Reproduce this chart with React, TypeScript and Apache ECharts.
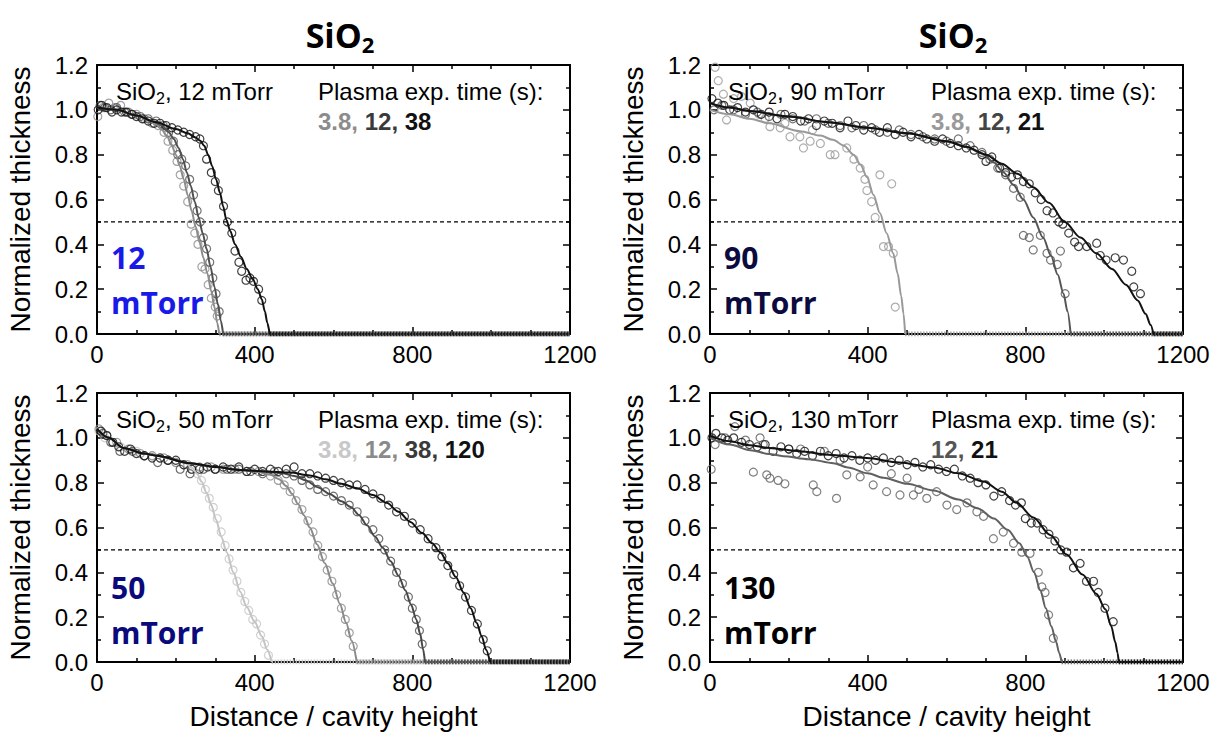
import React, { useEffect, useRef } from "react";
import * as echarts from "echarts";

// ---------- Panel 1: SiO2, 12 mTorr (exposure 3.8, 12, 38 s) ----------
const p1Fit3_8 = [[0, 1.01], [50, 1.0], [100, 0.975], [130, 0.955], [150, 0.935], [165, 0.91], [178, 0.88], [190, 0.84], [200, 0.8], [210, 0.75], [220, 0.69], [230, 0.62], [240, 0.55], [250, 0.48], [260, 0.41], [270, 0.34], [280, 0.27], [290, 0.19], [298, 0.12], [305, 0.05], [310, 0]];
const p1Fit12 = [[0, 1.01], [50, 1.0], [100, 0.975], [140, 0.95], [165, 0.93], [182, 0.9], [195, 0.87], [207, 0.83], [218, 0.78], [228, 0.72], [238, 0.66], [248, 0.59], [258, 0.52], [268, 0.45], [278, 0.38], [288, 0.3], [298, 0.21], [307, 0.13], [314, 0.06], [320, 0]];
const p1Fit38 = [[0, 1.01], [50, 1.0], [100, 0.975], [150, 0.945], [200, 0.915], [230, 0.895], [250, 0.877], [262, 0.862], [272, 0.84], [282, 0.8], [292, 0.75], [302, 0.69], [312, 0.63], [320, 0.57], [328, 0.51], [338, 0.46], [350, 0.4], [365, 0.345], [380, 0.29], [395, 0.245], [408, 0.2], [418, 0.155], [426, 0.1], [432, 0.05], [438, 0]];
const p1Pts3_8 = [[2, 0.97], [15, 1.01], [30, 1.03], [45, 1.01], [60, 1.02], [80, 0.99], [100, 0.98], [120, 0.96], [140, 0.94], [155, 0.93], [170, 0.9], [180, 0.86], [192, 0.82], [203, 0.77], [211, 0.71], [220, 0.66], [230, 0.59], [239, 0.49], [248, 0.45], [256, 0.4], [266, 0.3], [274, 0.29], [282, 0.22], [290, 0.16], [300, 0.12], [305, 0.08]];
const p1Pts12 = [[8, 1.02], [20, 1.01], [35, 1.0], [50, 1.01], [70, 0.99], [90, 0.98], [110, 0.97], [130, 0.96], [150, 0.95], [168, 0.93], [182, 0.9], [194, 0.86], [205, 0.8], [215, 0.78], [225, 0.75], [235, 0.69], [245, 0.62], [254, 0.55], [262, 0.5], [270, 0.43], [278, 0.38], [286, 0.32], [294, 0.25], [302, 0.18], [310, 0.1]];
const p1Pts38 = [[3, 1.0], [12, 1.02], [25, 1.01], [38, 0.99], [50, 1.0], [62, 0.99], [75, 0.99], [88, 0.98], [100, 0.97], [115, 0.96], [130, 0.95], [145, 0.94], [160, 0.94], [175, 0.93], [190, 0.92], [205, 0.91], [220, 0.9], [235, 0.89], [250, 0.88], [261, 0.87], [270, 0.84], [278, 0.78], [290, 0.72], [300, 0.68], [308, 0.64], [321, 0.57], [331, 0.5], [342, 0.45], [350, 0.37], [360, 0.32], [367, 0.28], [378, 0.24], [388, 0.25], [397, 0.235], [410, 0.2], [418, 0.15]];

// ---------- Panel 2: SiO2, 90 mTorr (exposure 3.8, 12, 21 s) ----------
const p2Fit3_8 = [[0, 1.0], [50, 0.98], [100, 0.96], [150, 0.94], [228, 0.905], [280, 0.885], [312, 0.866], [340, 0.84], [364, 0.8], [382, 0.755], [398, 0.7], [415, 0.62], [431, 0.54], [448, 0.45], [465, 0.36], [476, 0.27], [485, 0.17], [491, 0.09], [495, 0]];
const p2Fit12 = [[0, 1.03], [50, 1.01], [100, 0.995], [200, 0.97], [300, 0.945], [400, 0.92], [500, 0.895], [600, 0.86], [650, 0.835], [690, 0.805], [720, 0.765], [745, 0.72], [770, 0.665], [795, 0.6], [820, 0.52], [845, 0.43], [865, 0.35], [882, 0.265], [897, 0.18], [907, 0.1], [915, 0]];
const p2Fit21 = [[0, 1.03], [50, 1.01], [100, 0.995], [200, 0.97], [300, 0.945], [400, 0.92], [500, 0.895], [600, 0.86], [650, 0.835], [700, 0.8], [740, 0.76], [780, 0.715], [820, 0.655], [860, 0.585], [900, 0.5], [940, 0.43], [980, 0.36], [1020, 0.29], [1055, 0.22], [1085, 0.15], [1105, 0.09], [1118, 0.04], [1125, 0]];
const p2Pts3_8 = [[13, 1.19], [21, 1.13], [34, 1.07], [42, 0.955], [60, 1.05], [80, 1.06], [102, 1.03], [125, 0.98], [140, 0.96], [152, 0.925], [178, 0.92], [190, 0.94], [203, 0.88], [228, 0.88], [237, 0.83], [254, 0.86], [260, 0.91], [280, 0.85], [305, 0.8], [317, 0.8], [347, 0.83], [365, 0.78], [381, 0.74], [393, 0.69], [398, 0.64], [410, 0.59], [419, 0.52], [431, 0.71], [440, 0.39], [453, 0.39], [461, 0.67], [465, 0.36], [470, 0.12]];
const p2Pts12 = [[10, 1.0], [30, 1.02], [60, 1.0], [90, 0.98], [120, 0.99], [150, 0.97], [180, 0.98], [210, 0.96], [240, 0.95], [270, 0.96], [300, 0.94], [330, 0.93], [360, 0.92], [390, 0.93], [420, 0.91], [450, 0.9], [480, 0.91], [510, 0.89], [540, 0.88], [570, 0.87], [600, 0.86], [630, 0.87], [660, 0.84], [690, 0.81], [710, 0.78], [730, 0.74], [750, 0.71], [770, 0.65], [787, 0.61], [795, 0.44], [810, 0.43], [820, 0.375], [838, 0.44], [855, 0.36], [864, 0.33], [881, 0.31], [889, 0.37], [901, 0.18]];
const p2Pts21 = [[5, 1.05], [20, 1.03], [35, 1.02], [50, 1.0], [70, 1.01], [90, 0.99], [110, 1.0], [130, 0.98], [150, 0.99], [170, 0.96], [190, 0.98], [210, 0.97], [230, 0.95], [250, 0.96], [270, 0.93], [290, 0.95], [310, 0.94], [330, 0.92], [350, 0.95], [370, 0.93], [390, 0.91], [410, 0.92], [430, 0.9], [450, 0.92], [470, 0.89], [490, 0.9], [510, 0.88], [530, 0.89], [550, 0.87], [570, 0.86], [590, 0.87], [610, 0.85], [630, 0.84], [650, 0.83], [670, 0.82], [690, 0.8], [700, 0.77], [715, 0.79], [735, 0.74], [750, 0.72], [765, 0.7], [780, 0.71], [795, 0.68], [810, 0.67], [825, 0.63], [840, 0.6], [855, 0.55], [870, 0.54], [885, 0.5], [895, 0.49], [910, 0.45], [925, 0.41], [935, 0.39], [956, 0.39], [981, 0.405], [990, 0.35], [1005, 0.33], [1028, 0.34], [1049, 0.33], [1070, 0.28], [1075, 0.21], [1092, 0.18]];

// ---------- Panel 3: SiO2, 50 mTorr (exposure 3.8, 12, 38, 120 s) ----------
const p3Fit3_8 = [[0, 1.04], [30, 1.0], [67, 0.955], [120, 0.93], [151, 0.92], [200, 0.9], [225, 0.885], [242, 0.865], [254, 0.84], [265, 0.805], [278, 0.755], [290, 0.7], [302, 0.635], [315, 0.56], [329, 0.49], [346, 0.4], [363, 0.315], [380, 0.245], [400, 0.18], [418, 0.115], [432, 0.055], [443, 0]];
const p3Fit12 = [[0, 1.04], [30, 1.0], [67, 0.955], [120, 0.93], [151, 0.92], [236, 0.887], [300, 0.87], [363, 0.857], [410, 0.848], [440, 0.835], [462, 0.815], [480, 0.785], [495, 0.75], [510, 0.705], [525, 0.655], [540, 0.6], [558, 0.525], [578, 0.44], [598, 0.35], [616, 0.26], [632, 0.175], [646, 0.095], [659, 0]];
const p3Fit38 = [[0, 1.04], [30, 1.0], [67, 0.955], [120, 0.93], [151, 0.92], [236, 0.887], [300, 0.87], [363, 0.857], [430, 0.85], [470, 0.842], [500, 0.83], [530, 0.81], [560, 0.78], [590, 0.75], [620, 0.717], [645, 0.69], [665, 0.655], [685, 0.61], [705, 0.56], [725, 0.51], [745, 0.45], [765, 0.385], [782, 0.32], [797, 0.255], [810, 0.19], [820, 0.125], [827, 0.06], [832, 0]];
const p3Fit120 = [[0, 1.04], [30, 1.0], [67, 0.955], [120, 0.93], [151, 0.92], [236, 0.887], [300, 0.87], [363, 0.857], [430, 0.85], [490, 0.845], [540, 0.832], [580, 0.815], [620, 0.795], [660, 0.775], [700, 0.745], [735, 0.71], [765, 0.67], [795, 0.625], [825, 0.575], [850, 0.53], [871, 0.49], [890, 0.44], [910, 0.38], [930, 0.31], [948, 0.24], [963, 0.175], [976, 0.115], [987, 0.055], [997, 0]];
const p3Pts3_8 = [[5, 1.03], [20, 1.0], [40, 0.98], [60, 0.96], [80, 0.95], [100, 0.94], [120, 0.92], [140, 0.92], [160, 0.91], [180, 0.9], [200, 0.89], [220, 0.88], [240, 0.86], [255, 0.84], [265, 0.81], [275, 0.77], [285, 0.73], [295, 0.69], [305, 0.64], [315, 0.58], [325, 0.52], [335, 0.46], [345, 0.41], [355, 0.36], [365, 0.31], [375, 0.27], [385, 0.23], [395, 0.19], [405, 0.17], [415, 0.12], [425, 0.08], [435, 0.03]];
const p3Pts12 = [[5, 1.04], [25, 1.01], [50, 0.98], [80, 0.95], [110, 0.93], [140, 0.92], [170, 0.91], [200, 0.89], [230, 0.88], [260, 0.87], [290, 0.87], [320, 0.86], [350, 0.86], [380, 0.85], [410, 0.85], [440, 0.83], [460, 0.81], [475, 0.79], [490, 0.76], [505, 0.72], [520, 0.68], [535, 0.63], [548, 0.58], [560, 0.52], [572, 0.47], [584, 0.41], [596, 0.36], [608, 0.3], [620, 0.24], [630, 0.19], [640, 0.13], [650, 0.07]];
const p3Pts38 = [[15, 1.02], [35, 0.98], [58, 0.94], [90, 0.94], [120, 0.92], [154, 0.89], [180, 0.9], [211, 0.86], [236, 0.84], [270, 0.86], [300, 0.86], [330, 0.86], [360, 0.86], [390, 0.85], [420, 0.84], [450, 0.85], [480, 0.84], [500, 0.83], [520, 0.81], [540, 0.79], [560, 0.77], [580, 0.76], [600, 0.74], [620, 0.72], [640, 0.7], [660, 0.67], [680, 0.63], [700, 0.59], [715, 0.55], [730, 0.5], [745, 0.45], [760, 0.4], [775, 0.35], [790, 0.29], [800, 0.24], [810, 0.19], [818, 0.14], [825, 0.08]];
const p3Pts120 = [[10, 1.03], [25, 1.01], [40, 0.98], [55, 0.96], [70, 0.94], [85, 0.95], [100, 0.93], [120, 0.92], [140, 0.91], [160, 0.91], [180, 0.9], [200, 0.9], [220, 0.88], [240, 0.86], [260, 0.86], [280, 0.87], [300, 0.86], [320, 0.87], [340, 0.86], [360, 0.87], [380, 0.85], [400, 0.86], [420, 0.85], [440, 0.86], [460, 0.85], [480, 0.86], [500, 0.87], [520, 0.84], [540, 0.84], [560, 0.83], [580, 0.82], [600, 0.81], [620, 0.8], [640, 0.79], [660, 0.79], [680, 0.77], [700, 0.75], [720, 0.73], [740, 0.7], [760, 0.67], [780, 0.65], [800, 0.62], [820, 0.59], [840, 0.55], [860, 0.51], [875, 0.47], [890, 0.43], [905, 0.39], [920, 0.34], [935, 0.29], [950, 0.23], [965, 0.17], [980, 0.1], [990, 0.05]];

// ---------- Panel 4: SiO2, 130 mTorr (exposure 12, 21 s) ----------
const p4Fit12 = [[0, 1.0], [50, 0.97], [102, 0.945], [150, 0.928], [186, 0.918], [250, 0.905], [313, 0.887], [350, 0.868], [400, 0.842], [440, 0.822], [500, 0.795], [567, 0.765], [630, 0.725], [680, 0.685], [720, 0.64], [755, 0.59], [785, 0.53], [805, 0.47], [822, 0.4], [838, 0.32], [852, 0.24], [866, 0.16], [878, 0.09], [886, 0.04], [892, 0]];
const p4Fit21 = [[0, 1.01], [50, 0.985], [100, 0.967], [150, 0.955], [228, 0.94], [300, 0.925], [398, 0.91], [480, 0.89], [567, 0.868], [630, 0.842], [694, 0.805], [740, 0.76], [778, 0.71], [820, 0.645], [863, 0.567], [905, 0.48], [945, 0.39], [980, 0.305], [1003, 0.235], [1018, 0.16], [1028, 0.09], [1034, 0.04], [1037, 0]];
const p4Pts12 = [[3, 0.86], [13, 0.97], [38, 1.0], [63, 1.05], [90, 0.99], [110, 0.847], [127, 1.0], [135, 0.97], [144, 0.835], [152, 0.82], [173, 0.81], [190, 0.795], [200, 0.95], [230, 0.95], [262, 0.79], [271, 0.76], [290, 0.94], [321, 0.73], [330, 0.9], [347, 0.835], [381, 0.826], [400, 0.87], [414, 0.79], [448, 0.76], [460, 0.84], [482, 0.745], [500, 0.82], [516, 0.745], [530, 0.77], [550, 0.73], [575, 0.76], [601, 0.7], [626, 0.68], [652, 0.71], [677, 0.67], [694, 0.65], [719, 0.55], [744, 0.58], [770, 0.53], [791, 0.49], [812, 0.485], [833, 0.4], [842, 0.335], [850, 0.31], [859, 0.21], [871, 0.106]];
const p4Pts21 = [[5, 1.0], [15, 1.02], [30, 1.0], [45, 0.99], [60, 1.0], [80, 0.98], [100, 0.97], [120, 0.96], [140, 0.97], [160, 0.94], [180, 0.96], [200, 0.95], [220, 0.93], [240, 0.94], [260, 0.92], [280, 0.94], [300, 0.92], [320, 0.93], [340, 0.91], [360, 0.92], [380, 0.9], [400, 0.91], [420, 0.9], [440, 0.91], [460, 0.89], [480, 0.9], [500, 0.88], [520, 0.89], [540, 0.87], [560, 0.88], [580, 0.86], [600, 0.85], [620, 0.86], [640, 0.83], [660, 0.82], [680, 0.8], [700, 0.79], [720, 0.74], [740, 0.76], [760, 0.72], [775, 0.7], [790, 0.71], [800, 0.64], [815, 0.62], [830, 0.62], [845, 0.59], [860, 0.57], [875, 0.54], [890, 0.5], [905, 0.49], [922, 0.42], [939, 0.44], [955, 0.36], [973, 0.36], [985, 0.31], [1002, 0.24], [1023, 0.18]];

// ---------- Axes / annotation texts ----------
const xTickInterval = 400;
const yTickInterval = 0.2;
const xRange = [0, 1200];
const yRange = [0, 1.2];
const threshold = 0.5;
const pressures = ["12", "90", "50", "130"];
const expTimes = [["3.8", "12", "38"], ["3.8", "12", "21"], ["3.8", "12", "38", "120"], ["12", "21"]];

const FONT = '"Liberation Sans", Arial, sans-serif';
const BOLD = '"Open Sans", "Noto Sans", sans-serif';

const panels = [
  { left: 97, top: 65, label: "#1a1ae8", series: [
    { pts: p1Pts3_8, fit: p1Fit3_8, color: "#8c8c8c", text: "#8c8c8c" },
    { pts: p1Pts12, fit: p1Fit12, color: "#505050", text: "#3a3a3a" },
    { pts: p1Pts38, fit: p1Fit38, color: "#111111", text: "#111111" },
  ] },
  { left: 710, top: 65, label: "#0b0b40", series: [
    { pts: p2Pts3_8, fit: p2Fit3_8, color: "#999999", text: "#999999" },
    { pts: p2Pts12, fit: p2Fit12, color: "#555555", text: "#444444" },
    { pts: p2Pts21, fit: p2Fit21, color: "#111111", text: "#111111" },
  ] },
  { left: 97, top: 393, label: "#0a0a7c", series: [
    { pts: p3Pts3_8, fit: p3Fit3_8, color: "#c4c4c4", text: "#c8c8c8" },
    { pts: p3Pts12, fit: p3Fit12, color: "#8a8a8a", text: "#8a8a8a" },
    { pts: p3Pts38, fit: p3Fit38, color: "#484848", text: "#3a3a3a" },
    { pts: p3Pts120, fit: p3Fit120, color: "#111111", text: "#111111" },
  ] },
  { left: 710, top: 393, label: "#000000", series: [
    { pts: p4Pts12, fit: p4Fit12, color: "#606060", text: "#555555" },
    { pts: p4Pts21, fit: p4Fit21, color: "#111111", text: "#111111" },
  ] },
];

const GW = 473;
const GH = 269;

function buildOption() {
  const grid: any[] = [];
  const xAxis: any[] = [];
  const yAxis: any[] = [];
  const series: any[] = [];
  const graphic: any[] = [];

  const axisLine = { onZero: false, lineStyle: { color: "#000", width: 2 } };
  const tick = { inside: true, length: 7, lineStyle: { color: "#000", width: 1.5 } };
  const labelStyle = { fontSize: 24, fontFamily: FONT, color: "#000" };

  panels.forEach((p, i) => {
    grid.push({ left: p.left, top: p.top, width: GW, height: GH });
    const xBase = {
      gridIndex: i, type: "value", min: xRange[0], max: xRange[1], interval: xTickInterval,
      axisLine, axisTick: tick,
      minorTick: { show: true, splitNumber: 4, length: 4, lineStyle: { color: "#000", width: 1.5 } },
      splitLine: { show: false },
    };
    xAxis.push({
      ...xBase, position: "bottom",
      name: i >= 2 ? "Distance / cavity height" : "",
      nameLocation: "middle", nameGap: 40,
      nameTextStyle: { fontSize: 28, fontFamily: FONT, color: "#000" },
      axisLabel: { ...labelStyle, margin: 8, formatter: (v: number) => String(v) },
    });
    xAxis.push({ ...xBase, position: "top", axisLabel: { show: false } });
    const yBase = {
      gridIndex: i, type: "value", min: yRange[0], max: yRange[1], interval: yTickInterval,
      axisLine, axisTick: tick,
      minorTick: { show: true, splitNumber: 2, length: 4, lineStyle: { color: "#000", width: 1.5 } },
      splitLine: { show: false },
    };
    yAxis.push({
      ...yBase, position: "left",
      name: "Normalized thickness", nameLocation: "middle", nameGap: 63,
      nameTextStyle: { fontSize: 28, fontFamily: FONT, color: "#000" },
      axisLabel: { ...labelStyle, margin: 9, formatter: (v: number) => v.toFixed(1) },
    });
    yAxis.push({ ...yBase, position: "right", axisLabel: { show: false } });

    const xi = 2 * i;
    const yi = 2 * i;

    // dashed threshold line
    series.push({
      type: "line", xAxisIndex: xi, yAxisIndex: yi, silent: true, symbol: "none",
      data: [[xRange[0], threshold], [xRange[1], threshold]],
      lineStyle: { color: "#000", width: 1.3, type: [4, 3] }, z: 1,
    });

    p.series.forEach((s) => {
      const last = s.fit[s.fit.length - 1];
      // zero baseline after the profile vanishes
      series.push({
        type: "line", xAxisIndex: xi, yAxisIndex: yi, symbol: "none", silent: true,
        data: [[last[0], 0], [xRange[1], 0]],
        lineStyle: { color: s.color, width: 5, type: [1.5, 1.5], opacity: 0.9 }, z: 2,
      });
      series.push({
        type: "scatter", xAxisIndex: xi, yAxisIndex: yi, data: s.pts,
        symbol: "circle", symbolSize: 8,
        itemStyle: { color: "rgba(0,0,0,0)", borderColor: s.color, borderWidth: 1.2 }, z: 3,
      });
      series.push({
        type: "line", xAxisIndex: xi, yAxisIndex: yi, data: s.fit,
        symbol: "none", smooth: 0.3, smoothMonotone: "x",
        lineStyle: { color: s.color, width: 2 }, z: 4,
      });
    });

    const dx = p.left - 97;
    const dy = p.top - 65;
    // "SiO2, xx mTorr"
    graphic.push({
      type: "text", x: 116 + dx - (i % 2 ? 1 : 0), y: 91 + dy, z: 100,
      style: {
        text: `{a|SiO}{s|2}{a|, ${pressures[i]} mTorr}`,
        align: "left", verticalAlign: "middle",
        rich: {
          a: { fontSize: 24, fontFamily: FONT, fill: "#000", lineHeight: 30 },
          s: { fontSize: 16, fontFamily: FONT, fill: "#000", lineHeight: 12, verticalAlign: "bottom" },
        },
      },
    });
    graphic.push({
      type: "text", x: 318 + dx, y: 91 + dy, z: 100,
      style: { text: "Plasma exp. time (s):", align: "left", verticalAlign: "middle", fontSize: 24, fontFamily: FONT, fill: "#000" },
    });
    const rich: any = {};
    let txt = "";
    expTimes[i].forEach((t, k) => {
      rich["c" + k] = { fontSize: 24, fontFamily: FONT, fontWeight: "bold", fill: p.series[p.series.length - expTimes[i].length + k].text };
      txt += `{c${k}|${t}${k < expTimes[i].length - 1 ? ", " : ""}}`;
    });
    graphic.push({
      type: "text", x: 318 + dx, y: 121 + dy, z: 100,
      style: { text: txt, rich, align: "left", verticalAlign: "middle" },
    });
    // big pressure label
    graphic.push({
      type: "text", x: 111 + dx, y: 257 + dy + (i >= 2 ? 2 : 0), z: 100,
      style: { text: pressures[i], align: "left", verticalAlign: "middle", fontSize: 30, fontWeight: "bold", fontFamily: BOLD, fill: p.label },
    });
    graphic.push({
      type: "text", x: 111 + dx, y: 302 + dy + (i >= 2 ? 2 : 0), z: 100,
      style: { text: "mTorr", align: "left", verticalAlign: "middle", fontSize: 30, fontWeight: "bold", fontFamily: BOLD, fill: p.label },
    });
  });

  // column titles
  [340, 953].forEach((cx) => {
    graphic.push({
      type: "text", x: cx, y: 35, z: 100,
      style: {
        text: "{b|SiO}{s|2}", align: "center", verticalAlign: "middle",
        rich: {
          b: { fontSize: 34, fontWeight: "bold", fontFamily: BOLD, fill: "#000", lineHeight: 40 },
          s: { fontSize: 22, fontWeight: "bold", fontFamily: BOLD, fill: "#000", lineHeight: 14, verticalAlign: "bottom" },
        },
      },
    });
  });

  return { animation: false, backgroundColor: "#fff", grid, xAxis, yAxis, series, graphic };
}

export default function App() {
  const ref = useRef<HTMLDivElement>(null);
  useEffect(() => {
    if (!ref.current) return;
    const chart = echarts.init(ref.current, undefined, { renderer: "svg" });
    chart.setOption(buildOption() as any);
    return () => chart.dispose();
  }, []);
  return <div ref={ref} style={{ position: "fixed", left: 0, top: 0, width: 1215, height: 736, background: "#fff" }} />;
}
